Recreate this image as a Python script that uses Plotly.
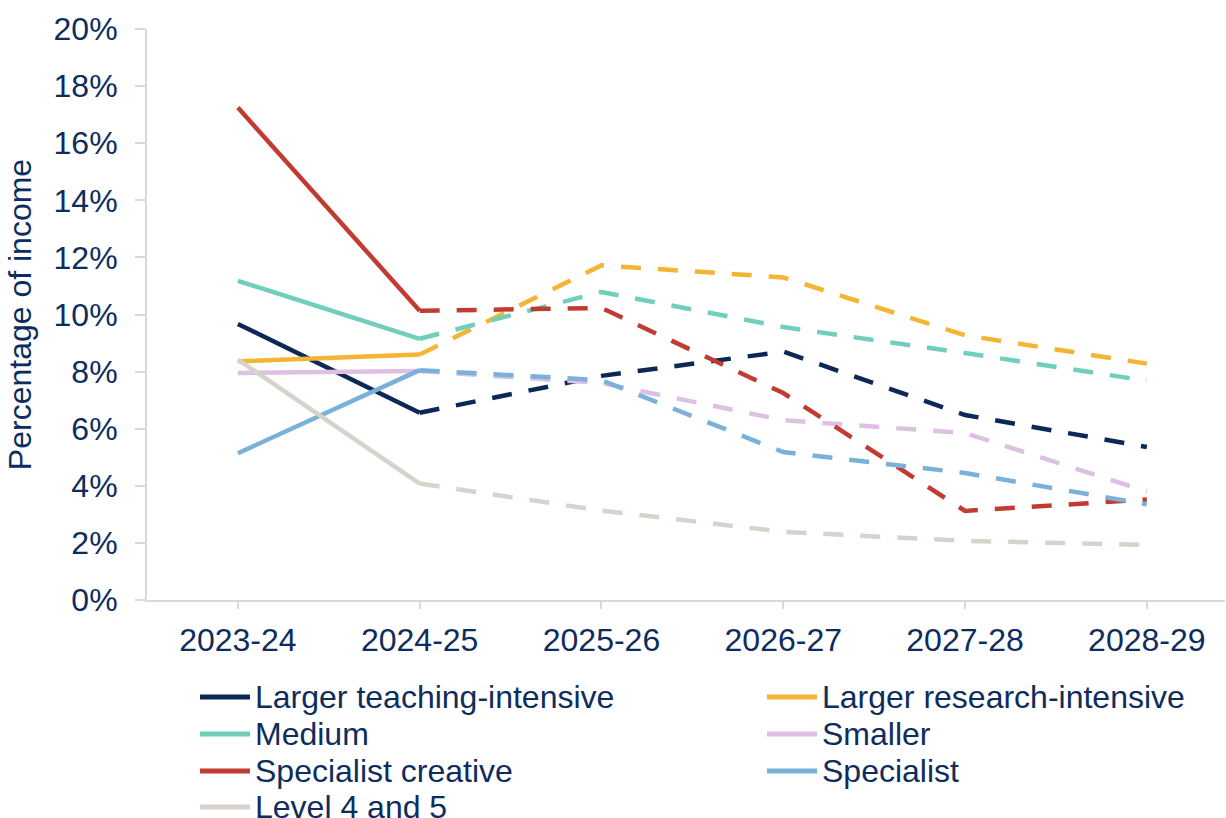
import plotly.graph_objects as go

categories = ["2023-24", "2024-25", "2025-26", "2026-27", "2027-28", "2028-29"]

series_names = [
    "Larger teaching-intensive",
    "Larger research-intensive",
    "Medium",
    "Smaller",
    "Specialist creative",
    "Specialist",
    "Level 4 and 5",
]
larger_teaching = [9.67, 6.56, 7.85, 8.70, 6.48, 5.36]
larger_research = [8.36, 8.60, 11.72, 11.30, 9.27, 8.28]
medium = [11.18, 9.15, 10.79, 9.56, 8.65, 7.68]
smaller = [7.95, 8.02, 7.60, 6.30, 5.85, 3.80]
specialist_creative = [17.25, 10.13, 10.23, 7.25, 3.12, 3.52]
specialist = [5.14, 8.05, 7.70, 5.18, 4.45, 3.35]
level45 = [8.42, 4.08, 3.13, 2.39, 2.07, 1.93]

series_values = [larger_teaching, larger_research, medium, smaller,
                 specialist_creative, specialist, level45]
colors = ["#0C2857", "#F4B434", "#6FCFBB", "#DDC0E2", "#C23B33", "#7AB1DA", "#D7D2CC"]

TEXT = "#0E2D5E"
FONT = "Liberation Sans, Arial, sans-serif"
W, H = 1226, 818
ML, MR, MT, MB = 147, 1, 29, 218
PW, PH = W - ML - MR, H - MT - MB

fig = go.Figure()
for name, vals, col in zip(series_names, series_values, colors):
    fig.add_trace(go.Scatter(x=categories[:2], y=vals[:2], mode="lines",
                             line=dict(color=col, width=4.5), name=name,
                             showlegend=False, hoverinfo="skip"))
    fig.add_trace(go.Scatter(x=categories[1:], y=vals[1:], mode="lines",
                             line=dict(color=col, width=4.5, dash="20px,17px"),
                             name=name, showlegend=False, hoverinfo="skip"))

def px_x(p):
    return (p - ML) / PW

def px_y(p):
    return (H - MB - p) / PH

# custom legend (two columns)
legend_layout = [
    (0, 0), (1, 0), (0, 1), (1, 1), (0, 2), (1, 2), (0, 3)
]
col_x = [200, 767]
row_y = [697, 734, 771, 807]
for (c, r), name, col in zip(legend_layout, series_names, colors):
    x0 = col_x[c]
    y = row_y[r]
    fig.add_shape(type="line", xref="paper", yref="paper",
                  x0=px_x(x0), x1=px_x(x0 + 50), y0=px_y(y), y1=px_y(y),
                  line=dict(color=col, width=5))
    fig.add_annotation(xref="paper", yref="paper", x=px_x(x0 + 53), y=px_y(y),
                       text=name, showarrow=False, xanchor="left", yanchor="middle",
                       font=dict(size=32, color=TEXT, family=FONT))

fig.update_layout(
    width=W, height=H,
    margin=dict(l=ML, r=MR, t=MT, b=MB),
    paper_bgcolor="white", plot_bgcolor="white",
    font=dict(family=FONT, size=32, color=TEXT),
    showlegend=False,
    xaxis=dict(
        type="category", range=[-0.5, 5.43],
        showline=True, linecolor="#D9D9D9", linewidth=2,
        ticks="outside", ticklen=7, tickcolor="#D9D9D9", tickwidth=2,
        showgrid=False, zeroline=False,
        tickfont=dict(size=32, color=TEXT, family=FONT),
        ticklabelstandoff=4,
    ),
    yaxis=dict(
        range=[0, 20], dtick=2, ticksuffix="%",
        showline=True, linecolor="#D9D9D9", linewidth=2,
        ticks="outside", ticklen=10, tickcolor="#D9D9D9", tickwidth=2,
        showgrid=False, zeroline=False,
        tickfont=dict(size=32, color=TEXT, family=FONT),
        ticklabelstandoff=11,
        title=dict(text="Percentage of income", standoff=12,
                   font=dict(size=32, color=TEXT, family=FONT)),
    ),
)

fig.write_html("out.html")
